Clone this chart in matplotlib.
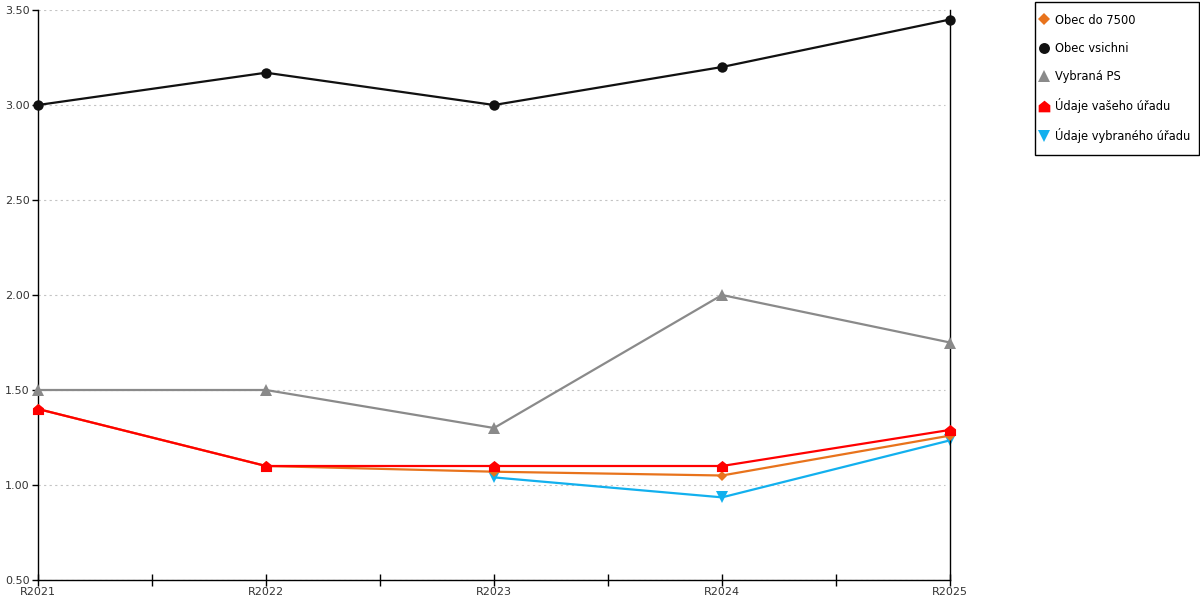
import matplotlib
matplotlib.use("Agg")
import matplotlib.pyplot as plt
import numpy as np
from matplotlib.path import Path
from matplotlib.lines import Line2D
from matplotlib.patches import Rectangle

categories = ["R2021", "R2022", "R2023", "R2024", "R2025"]
obec_do_7500 = [1.40, 1.10, 1.07, 1.05, 1.26]
obec_vsichni = [3.00, 3.17, 3.00, 3.20, 3.45]
vybrana_ps = [1.50, 1.50, 1.30, 2.00, 1.75]
udaje_vaseho = [1.40, 1.10, 1.10, 1.10, 1.29]
udaje_vybraneho = [np.nan, np.nan, 1.04, 0.935, 1.235]

labels = ["Obec do 7500", "Obec vsichni", "Vybraná PS", "Údaje vašeho úřadu", "Údaje vybraného úřadu"]
yticks = [0.5, 1.0, 1.5, 2.0, 2.5, 3.0, 3.5]

house = Path([(-1, -1), (1, -1), (1, 0.2), (0, 1), (-1, 0.2), (-1, -1)],
             [Path.MOVETO, Path.LINETO, Path.LINETO, Path.LINETO, Path.LINETO, Path.CLOSEPOLY])

styles = [
    dict(color="#E8731C", marker="D", ms=5.5, z=3),
    dict(color="#111111", marker="o", ms=7.5, z=3),
    dict(color="#8A8A8A", marker="^", ms=8, z=3),
    dict(color="#FF0000", marker=house, ms=8, z=5),
    dict(color="#12B0EE", marker="v", ms=8, z=2),
]
series = [obec_do_7500, obec_vsichni, vybrana_ps, udaje_vaseho, udaje_vybraneho]

fig = plt.figure(figsize=(12, 6), dpi=100)
ax = fig.add_axes([38/1200, 20/600, (950-38)/1200, 570/600])
x = np.arange(len(categories))

for vals, st in zip(series, styles):
    ax.plot(x, vals, color=st["color"], lw=1.6, marker=st["marker"], ms=st["ms"],
            markeredgewidth=0, zorder=st["z"], clip_on=False)

ax.set_xlim(0, len(categories) - 1)
ax.set_ylim(0.5, 3.5)
ax.set_yticks(yticks)
ax.set_yticklabels([f"{v:.2f}" for v in yticks], fontsize=8, color="#333333")
ax.set_xticks(x)
ax.set_xticklabels(categories, fontsize=8, color="#333333")
ax.set_xticks(np.arange(0.5, len(categories) - 1, 1.0), minor=True)
ax.tick_params(axis="x", which="both", direction="inout", length=8, width=1, pad=1)
ax.tick_params(axis="y", direction="out", length=4, width=1, pad=2)
for v in yticks:
    ax.axhline(v, xmax=0.995, color="#C4C4C4", lw=0.8, ls=(0, (2, 3)), zorder=1)
ax.spines["top"].set_visible(False)
for s in ["left", "bottom", "right"]:
    ax.spines[s].set_color("black")
    ax.spines[s].set_linewidth(1)

handles = [Line2D([], [], color=st["color"], marker=st["marker"], ms=st["ms"] * 1.05,
                  markeredgewidth=0, ls="none") for st in styles]
leg = fig.legend(handles, labels, loc="upper left", bbox_to_anchor=(1039.5/1200, 1 - 13.5/600),
                 fontsize=8.3, frameon=False,
                 handlelength=0.8, handletextpad=0.55, labelspacing=1.31,
                 borderpad=0, borderaxespad=0)
fig.patches.append(Rectangle((1035/1200, 1 - 155/600), 164/1200, 153/600,
                             transform=fig.transFigure, fill=False,
                             edgecolor="black", lw=1))

fig.savefig("out.png", dpi=100)
